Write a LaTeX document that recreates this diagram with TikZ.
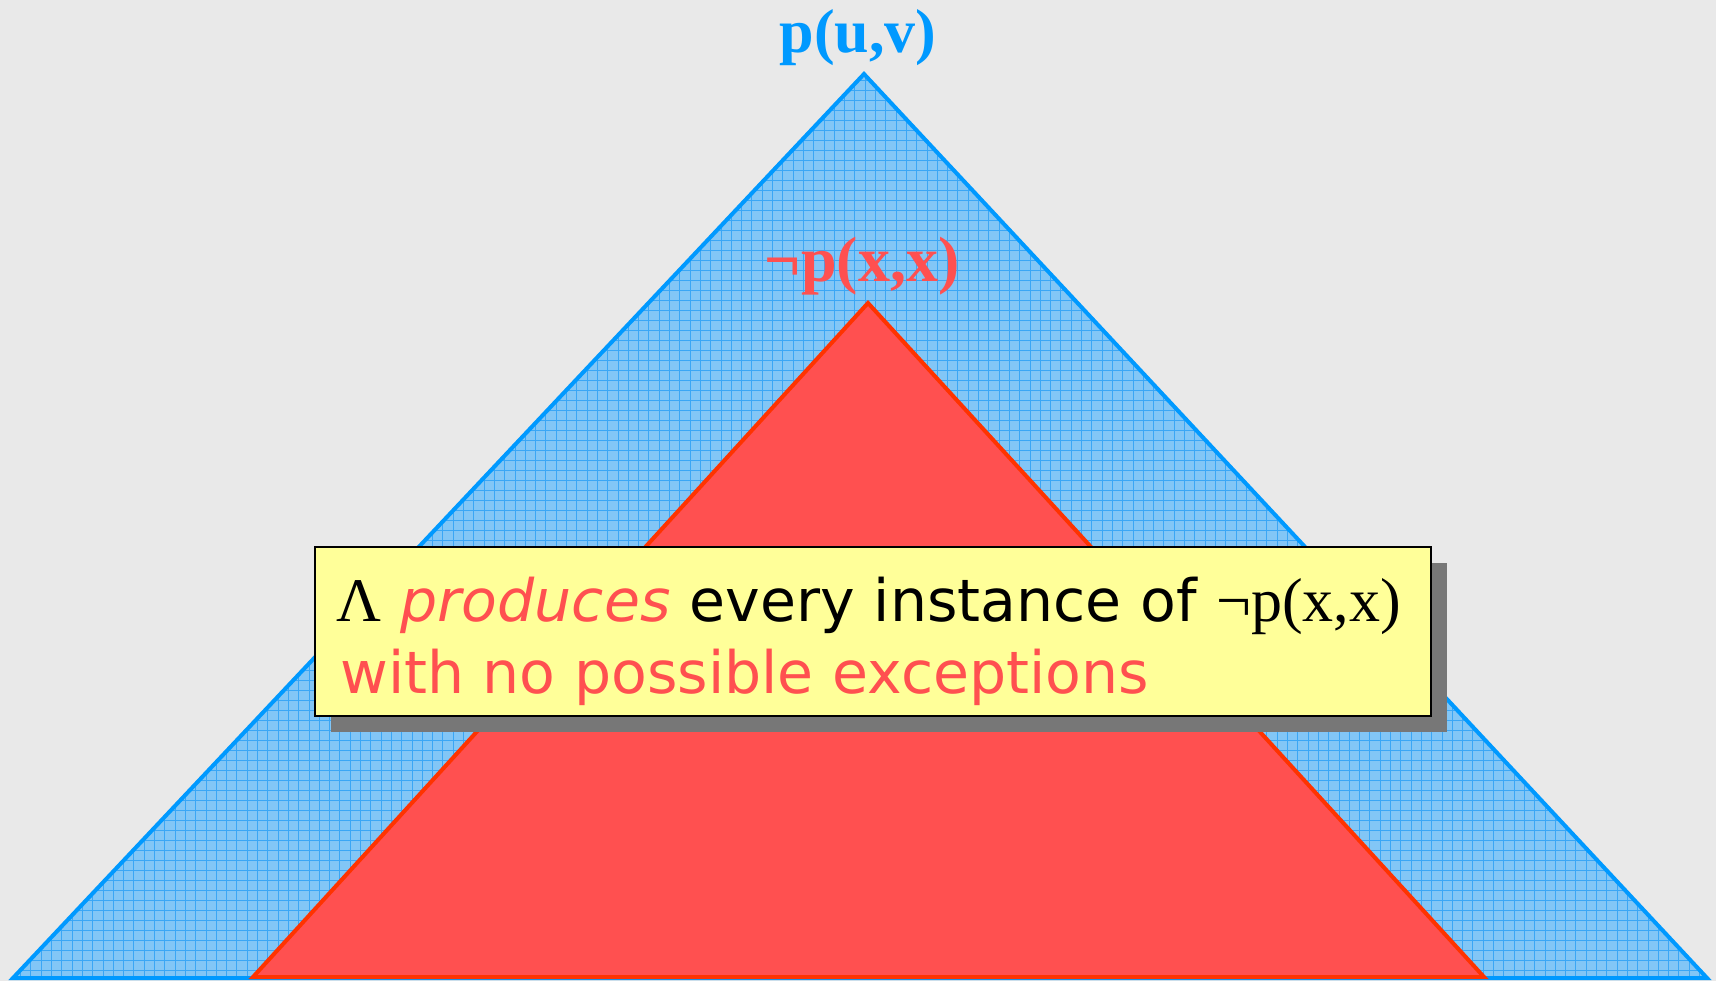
\documentclass[tikz,border=0pt]{standalone}
\usepackage{fontspec}
\setmainfont{Liberation Serif}
\newfontfamily\versans{DejaVu Sans}
\definecolor{bggray}{HTML}{E9E9E9}
\definecolor{blueline}{HTML}{0099FF}
\definecolor{bluefill}{HTML}{82C6F6}
\definecolor{bluegrid}{HTML}{3AA6F5}
\definecolor{redfill}{HTML}{FF5050}
\definecolor{redline}{HTML}{FF3300}
\definecolor{noteyellow}{HTML}{FFFF99}
\definecolor{shadowgray}{HTML}{777777}
\newcommand{\serifbit}[1]{{\fontsize{62}{62}\selectfont #1}}
\newcommand{\wordgap}{\hspace{19.5pt}}
\begin{document}
\begin{tikzpicture}[x=1pt,y=-1pt,
  outertri/.style={draw=blueline,line width=4pt,line join=miter},
  innertri/.style={fill=redfill,draw=redline,line width=4pt,line join=miter},
  toplabel/.style={anchor=base,inner sep=0pt,font=\fontsize{62}{62}\selectfont\bfseries},
  notebox/.style={fill=noteyellow,draw=black,line width=2pt},
  noteshadow/.style={fill=shadowgray},
  noteline/.style={anchor=base west,inner sep=0pt,font=\fontsize{58.5}{58.5}\selectfont}
]
\useasboundingbox (0,0) rectangle (1716,981);
\fill[bggray] (0,0) rectangle (1716,981);

% outer triangle: p(u,v)
\coordinate (BA) at (864,74);
\coordinate (BL) at (13,978);
\coordinate (BR) at (1707,978);
\fill[bluefill] (BA) -- (BL) -- (BR) -- cycle;
\begin{scope}
  \clip (BA) -- (BL) -- (BR) -- cycle;
  \draw[bluegrid,line width=0.9pt,xstep=10.3pt,ystep=10pt] (0,0) grid (1716,981);
\end{scope}
\draw[outertri] (BA) -- (BL) -- (BR) -- cycle;

% inner triangle: not p(x,x)
\coordinate (RA) at (868,303);
\coordinate (RL) at (253,977);
\coordinate (RR) at (1484,977);
\draw[innertri] (RA) -- (RL) -- (RR) -- cycle;

% labels
\node[toplabel,text=blueline] (puv) at (858,53) {p(u,v)};
\node[toplabel,text=redfill,font=\fontsize{64}{64}\selectfont\bfseries] (npxx) at (862,282) {¬p(x,x)};

% note with drop shadow
\coordinate (bnw) at (315,547);
\coordinate (bse) at (1431,716);
\fill[noteshadow] ([xshift=16pt,yshift=-16pt]bnw) rectangle ([xshift=16pt,yshift=-16pt]bse);
\draw[notebox] (bnw) rectangle (bse);
\node[noteline] (l1) at (336,621) {\serifbit{Λ}\wordgap{\versans\itshape\color{redfill}produces}\wordgap{\versans every instance of}\wordgap\serifbit{¬p(x,x)}};
\node[noteline,text=redfill] (l2) at (340,693) {\versans with no possible exceptions};
\end{tikzpicture}
\end{document}
